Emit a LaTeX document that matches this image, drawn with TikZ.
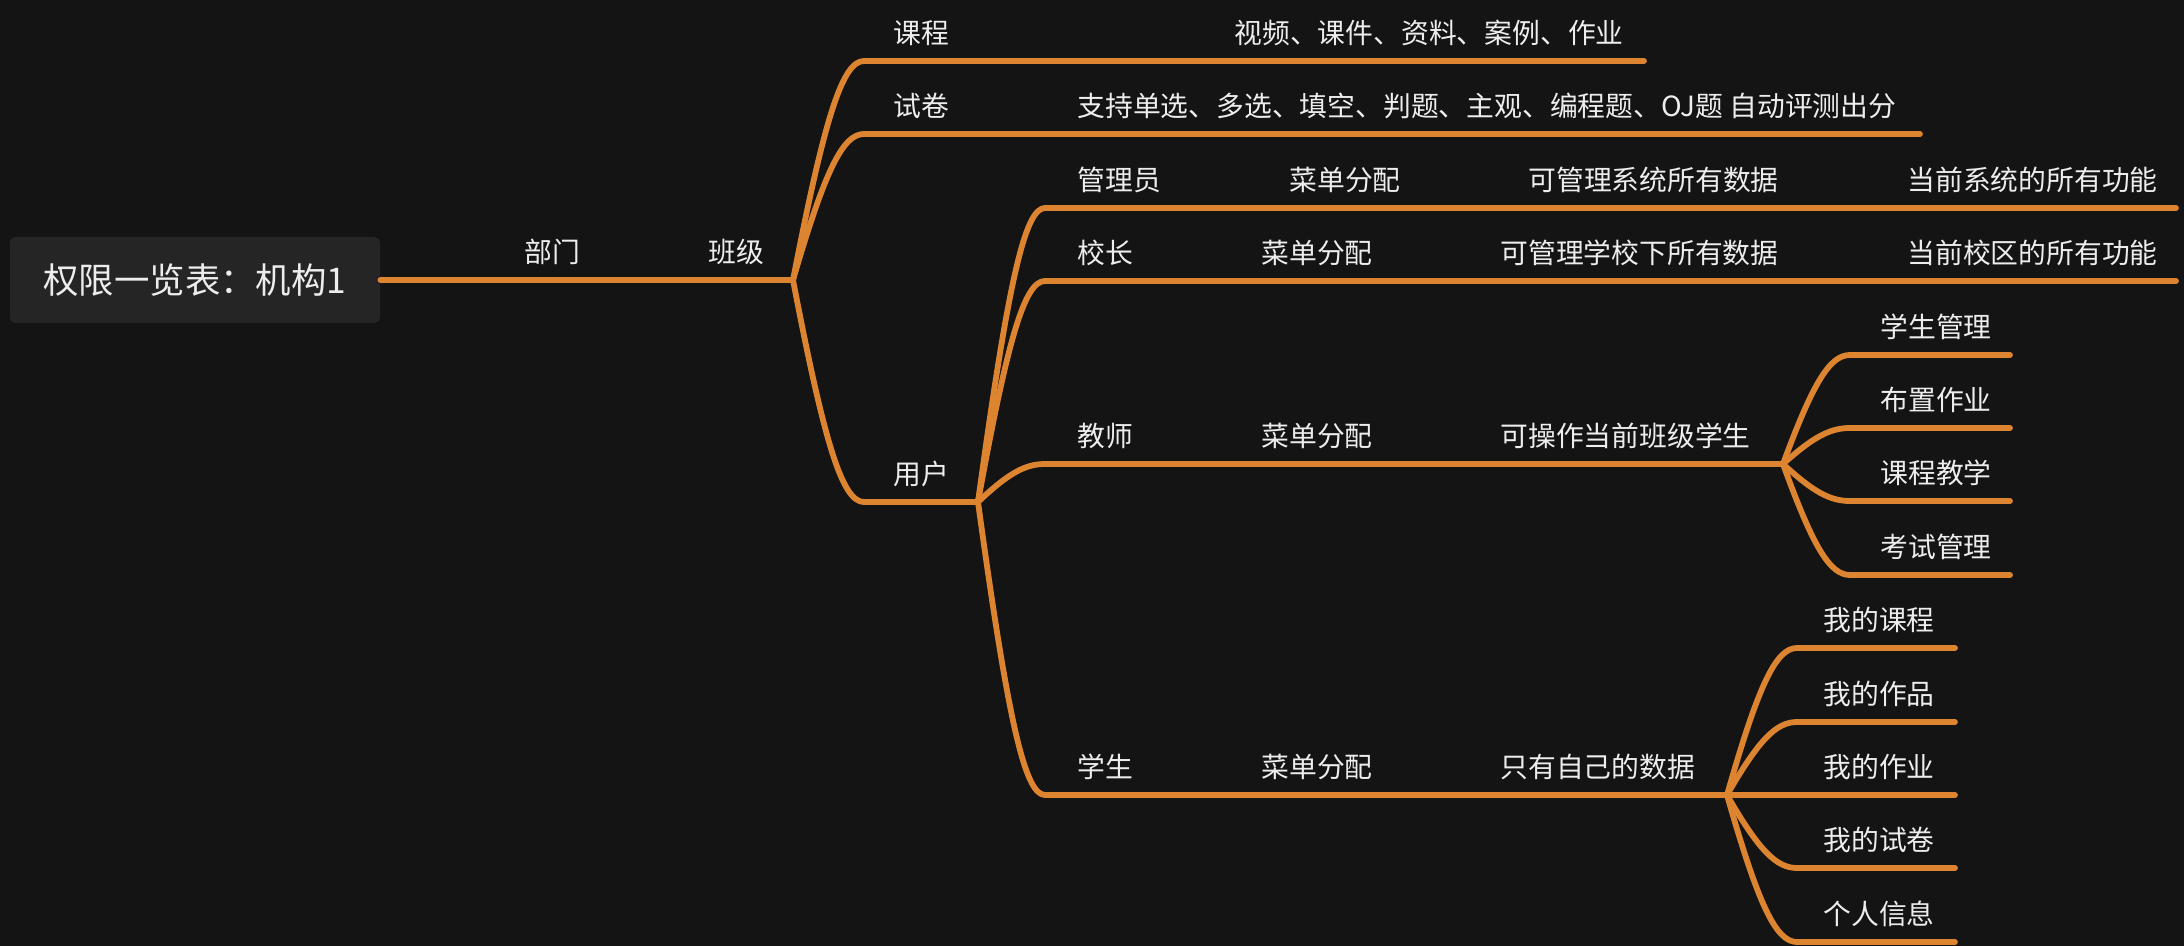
\documentclass[tikz,border=0pt]{standalone}
\usepackage{fontspec}
\setmainfont{Noto Sans CJK SC}
\usepackage{xcolor}
\usepackage{tikz}
\usetikzlibrary{calc}
\definecolor{bgdark}{HTML}{141414}
\definecolor{rootfill}{HTML}{252525}
\definecolor{branchorange}{HTML}{DD8430}
\definecolor{labelwhite}{HTML}{EDEDED}
\tikzset{
  branch/.style={line width=2.9pt,draw=branchorange,line cap=round},
  lbl/.style={anchor=west,inner sep=0pt,text=labelwhite,font=\fontsize{13.9}{16}\selectfont},
  rootbox/.style={fill=rootfill,rounded corners=3pt,minimum width=185pt,minimum height=43pt,
    inner sep=0pt,text=labelwhite,font=\fontsize{17.7}{20}\selectfont}
}
\newcommand\curvebranch[2]{%
  \draw[branch] let \p1=(#1), \p2=(#2) in
    (\p1) .. controls ({\x1+0.45*(\x2-\x1)},{\y1+0.75*(\y2-\y1)}) and ({\x1+0.7*(\x2-\x1)},\y2) .. (\p2);}

\begin{document}
\begin{tikzpicture}[x=0.5pt,y=-0.5pt,line join=round]
  \fill[bgdark] (0,0) rectangle (2184,946);
  \useasboundingbox (0,0) rectangle (2184,946);
  % junctions, corners and ends
  \coordinate (J1) at (793,280);
  \coordinate (J2) at (978,502);
  \coordinate (J3) at (1783,464);
  \coordinate (J4) at (1727,795);
  \coordinate (CKC) at (864,61);
  \coordinate (EKC) at (1644,61);
  \coordinate (CSJ) at (864,134);
  \coordinate (ESJ) at (1920,134);
  \coordinate (CYH) at (864,502);
  \coordinate (CGLY) at (1045,208);
  \coordinate (EGLY) at (2176,208);
  \coordinate (CXZ) at (1045,281);
  \coordinate (EXZ) at (2176,281);
  \coordinate (CJS) at (1045,464);
  \coordinate (CXS) at (1045,795);
  \coordinate (CT1) at (1850,355);
  \coordinate (ET1) at (2010,355);
  \coordinate (CT2) at (1850,428);
  \coordinate (ET2) at (2010,428);
  \coordinate (CT3) at (1850,501);
  \coordinate (ET3) at (2010,501);
  \coordinate (CT4) at (1850,575);
  \coordinate (ET4) at (2010,575);
  \coordinate (CS1) at (1797,648);
  \coordinate (ES1) at (1955,648);
  \coordinate (CS2) at (1797,722);
  \coordinate (ES2) at (1955,722);
  \coordinate (ES3) at (1955,795);
  \coordinate (CS4) at (1797,868);
  \coordinate (ES4) at (1955,868);
  \coordinate (CS5) at (1797,942);
  \coordinate (ES5) at (1955,942);
  % root
  \node[rootbox] (ROOT) at (195,280) {权限一览表：机构1};
  \draw[branch] (ROOT.east) -- (J1);
  % class level
  \curvebranch{J1}{CKC}
  \draw[branch] (CKC) -- (EKC);
  \curvebranch{J1}{CSJ}
  \draw[branch] (CSJ) -- (ESJ);
  \curvebranch{J1}{CYH}
  \draw[branch] (CYH) -- (J2);
  % users
  \curvebranch{J2}{CGLY}
  \draw[branch] (CGLY) -- (EGLY);
  \curvebranch{J2}{CXZ}
  \draw[branch] (CXZ) -- (EXZ);
  \curvebranch{J2}{CJS}
  \draw[branch] (CJS) -- (J3);
  \curvebranch{J2}{CXS}
  \draw[branch] (CXS) -- (J4);
  % teacher items
  \curvebranch{J3}{CT1}
  \draw[branch] (CT1) -- (ET1);
  \curvebranch{J3}{CT2}
  \draw[branch] (CT2) -- (ET2);
  \curvebranch{J3}{CT3}
  \draw[branch] (CT3) -- (ET3);
  \curvebranch{J3}{CT4}
  \draw[branch] (CT4) -- (ET4);
  % student items
  \curvebranch{J4}{CS1}
  \draw[branch] (CS1) -- (ES1);
  \curvebranch{J4}{CS2}
  \draw[branch] (CS2) -- (ES2);
  \draw[branch] (J4) -- (ES3);
  \curvebranch{J4}{CS4}
  \draw[branch] (CS4) -- (ES4);
  \curvebranch{J4}{CS5}
  \draw[branch] (CS5) -- (ES5);
  % labels
  \node[lbl] (BM) at (524,252) {部门};
  \node[lbl] (BJ) at (708,252) {班级};
  \node[lbl] (KC) at (893,33) {课程};
  \node[lbl] (KCD) at (1234,33) {视频、课件、资料、案例、作业};
  \node[lbl] (SJ) at (893,106) {试卷};
  \node[lbl] (SJD) at (1077,106) {支持单选、多选、填空、判题、主观、编程题、OJ题 自动评测出分};
  \node[lbl] (YH) at (893,474) {用户};
  \node[lbl] (GLY) at (1077,180) {管理员};
  \node[lbl] (GLYM) at (1289,180) {菜单分配};
  \node[lbl] (GLYD) at (1528,180) {可管理系统所有数据};
  \node[lbl] (GLYF) at (1907,180) {当前系统的所有功能};
  \node[lbl] (XZ) at (1077,253) {校长};
  \node[lbl] (XZM) at (1261,253) {菜单分配};
  \node[lbl] (XZD) at (1500,253) {可管理学校下所有数据};
  \node[lbl] (XZF) at (1907,253) {当前校区的所有功能};
  \node[lbl] (JS) at (1077,436) {教师};
  \node[lbl] (JSM) at (1261,436) {菜单分配};
  \node[lbl] (JSD) at (1500,436) {可操作当前班级学生};
  \node[lbl] (XS) at (1077,767) {学生};
  \node[lbl] (XSM) at (1261,767) {菜单分配};
  \node[lbl] (XSD) at (1500,767) {只有自己的数据};
  \node[lbl] (T1) at (1880,327) {学生管理};
  \node[lbl] (T2) at (1880,400) {布置作业};
  \node[lbl] (T3) at (1880,473) {课程教学};
  \node[lbl] (T4) at (1880,547) {考试管理};
  \node[lbl] (S1) at (1823,620) {我的课程};
  \node[lbl] (S2) at (1823,694) {我的作品};
  \node[lbl] (S3) at (1823,767) {我的作业};
  \node[lbl] (S4) at (1823,840) {我的试卷};
  \node[lbl] (S5) at (1823,914) {个人信息};
\end{tikzpicture}
\end{document}
